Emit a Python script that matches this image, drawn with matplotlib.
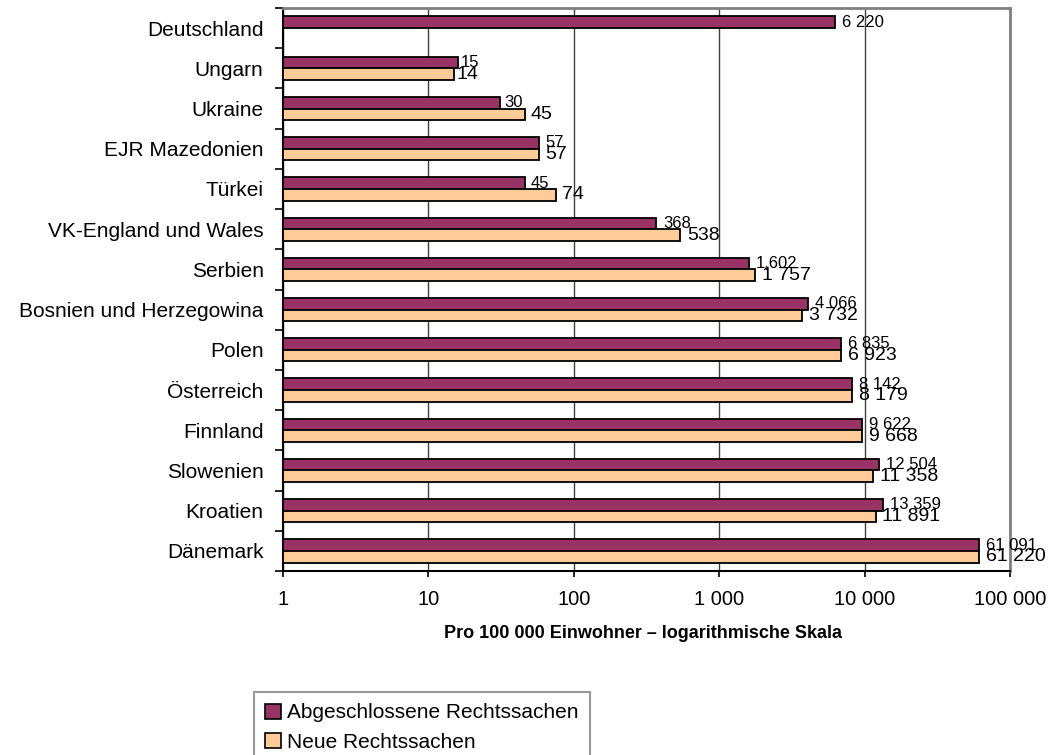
import matplotlib
matplotlib.use("Agg")
import matplotlib.pyplot as plt
import numpy as np
from matplotlib.patches import Patch

plt.rcParams['font.family'] = ['Liberation Sans', 'DejaVu Sans']

categories = ["Deutschland", "Ungarn", "Ukraine", "EJR Mazedonien", "Türkei",
              "VK-England und Wales", "Serbien", "Bosnien und Herzegowina",
              "Polen", "Österreich", "Finnland", "Slowenien", "Kroatien", "Dänemark"]
closed_cases = [6220, 15, 30, 57, 45, 368, 1602, 4066, 6835, 8142, 9622, 12504, 13359, 61091]
closed_labels = ["6 220", "15", "30", "57", "45", "368", "1,602", "4 066", "6 835",
                 "8 142", "9 622", "12 504", "13 359", "61 091"]
new_cases = [None, 14, 45, 57, 74, 538, 1757, 3732, 6923, 8179, 9668, 11358, 11891, 61220]
new_labels = ["", "14", "45", "57", "74", "538", "1 757", "3 732", "6 923",
              "8 179", "9 668", "11 358", "11 891", "61 220"]
x_ticks = [1, 10, 100, 1000, 10000, 100000]
x_tick_labels = ["1", "10", "100", "1 000", "10 000", "100 000"]
series_names = ["Abgeschlossene Rechtssachen", "Neue Rechtssachen"]

purple = "#993366"
peach = "#FFCC99"

fig = plt.figure(figsize=(10.55, 7.55), dpi=100)
ax = fig.add_axes([283/1055, 1 - 571/755, (1010 - 283)/1055, (571 - 8)/755])

n = len(categories)
pos = np.arange(n)
h = 0.29
for i in range(n):
    c = closed_cases[i]
    if c is not None:
        ax.barh(pos[i] - h/2, c, height=h, left=1, color=purple, edgecolor='black', linewidth=1.3, zorder=3)
        ax.annotate(closed_labels[i], xy=(c, pos[i] - h/2), xytext=(5, 0), textcoords='offset points',
                    va='center', ha='left', fontsize=12, zorder=4)
    v = new_cases[i]
    if v is not None:
        ax.barh(pos[i] + h/2, v, height=h, left=1, color=peach, edgecolor='black', linewidth=1.3, zorder=3)
        ax.annotate(new_labels[i], xy=(v, pos[i] + h/2), xytext=(5, 0), textcoords='offset points',
                    va='center', ha='left', fontsize=14, zorder=4)

ax.set_xscale('log')
ax.set_xlim(1, 100000)
ax.set_ylim(n - 0.5, -0.5)
ax.xaxis.set_major_locator(matplotlib.ticker.FixedLocator(x_ticks))
ax.xaxis.set_minor_locator(matplotlib.ticker.NullLocator())
ax.set_xticklabels(x_tick_labels, fontsize=14.5)
ax.tick_params(axis='x', length=4, width=1.2, pad=10, color='black')

ax.set_yticks(np.arange(n + 1) - 0.5)
ax.set_yticklabels([])
ax.set_yticks(pos, minor=True)
ax.set_yticklabels(categories, minor=True, fontsize=15)
ax.tick_params(axis='y', which='major', length=6, width=1.2, color='black')
ax.tick_params(axis='y', which='minor', length=0, pad=14)

ax.grid(axis='x', which='major', color='#404040', linewidth=1, zorder=0)
ax.set_axisbelow(True)

ax.spines['left'].set_color('black')
ax.spines['left'].set_linewidth(1.5)
ax.spines['bottom'].set_color('black')
ax.spines['bottom'].set_linewidth(1.5)
ax.spines['top'].set_color('#808080')
ax.spines['top'].set_linewidth(2)
ax.spines['right'].set_color('#808080')
ax.spines['right'].set_linewidth(2)

fig.text(643/1055, 1 - 634/755, "Pro 100 000 Einwohner \u2013 logarithmische Skala",
         ha='center', va='center', fontsize=13, fontweight='bold')

handles = [Patch(facecolor=purple, edgecolor='black', linewidth=1.2),
           Patch(facecolor=peach, edgecolor='black', linewidth=1.2)]
leg = fig.legend(handles, series_names, loc='upper left',
                 bbox_to_anchor=(254/1055, 1 - 692/755), fontsize=15,
                 frameon=True, fancybox=False, edgecolor='#808080',
                 handlelength=0.75, handleheight=0.75, handletextpad=0.3,
                 borderpad=0.55, labelspacing=0.5, borderaxespad=0)
leg.get_frame().set_linewidth(1.5)

fig.savefig("out.png", dpi=100)
